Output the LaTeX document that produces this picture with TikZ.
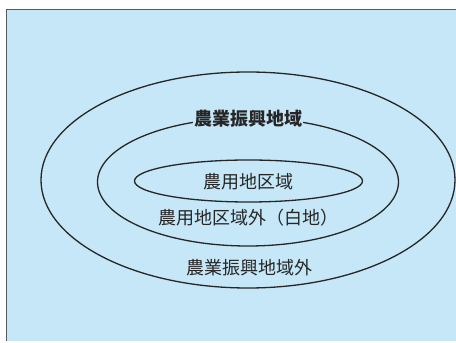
\documentclass[tikz,border=0pt]{standalone}
\usepackage{fontspec}
\setmainfont{Noto Sans CJK JP}
\usetikzlibrary{shapes.geometric}
\begin{document}
\begin{tikzpicture}[x=1pt,y=1pt,
  ring/.style={draw=inkc,line width=1.3pt},
  lbl/.style={font=\fontsize{18}{20}\selectfont,text=inkc,inner sep=1pt}]
\definecolor{skyb}{HTML}{C6E7F8}
\definecolor{inkc}{HTML}{262626}
\useasboundingbox (0,0) rectangle (456,343);
\fill[white] (0,0) rectangle (456,343);
\fill[skyb] (6,2) rectangle (456,334);
\draw[draw=gray!70!black,line width=1.2pt] (6.5,2) -- (6.5,333.5) -- (456,333.5);
\node[ring,ellipse,minimum width=414pt,minimum height=216pt,inner sep=0pt] (outer) at (248,163) {};
\node[ring,ellipse,minimum width=301pt,minimum height=128pt,inner sep=0pt] (middle) at (248,161) {};
\node[ring,ellipse,minimum width=228pt,minimum height=42pt,inner sep=0pt] (inner) at (248.5,162) {};
\node[lbl,fill=skyb,font=\fontsize{18}{20}\selectfont\bfseries] (l1) at (248,224) {農業振興地域};
\node[lbl] (l2) at (248,161) {農用地区域};
\node[lbl] (l3) at (248,125) {農用地区域外（白地）};
\node[lbl] (l4) at (249,75) {農業振興地域外};
\end{tikzpicture}
\end{document}
